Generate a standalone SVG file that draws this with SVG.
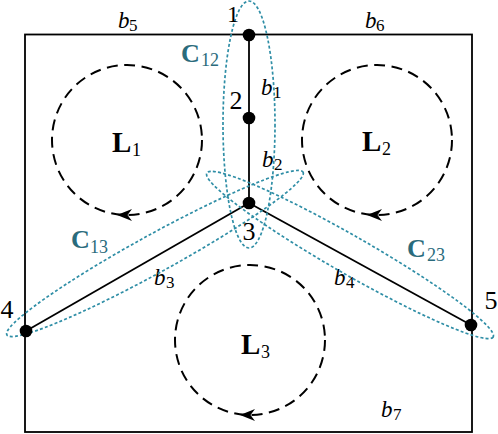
<svg xmlns="http://www.w3.org/2000/svg" width="498" height="434" viewBox="0 0 498 434">
<defs>
<style>
.edge{stroke:#000;stroke-width:1.8;fill:none}
.loop{stroke:#000;stroke-width:2;fill:none;stroke-dasharray:11 6.5}
.cut{stroke:#2f8ea6;stroke-width:1.7;fill:none;stroke-dasharray:3 2.2}
.dot{fill:#000}
.num{font-family:"Liberation Serif",serif;font-size:26px;fill:#000;text-anchor:middle}
.b{font-family:"Liberation Serif",serif;font-size:23px;font-style:italic;fill:#000}
.sub{font-family:"Liberation Serif",serif;font-size:17px;fill:#000}
.C{font-family:"Liberation Serif",serif;font-size:26px;font-weight:bold;fill:#2a6b7c}
.Csub{font-family:"Liberation Serif",serif;font-size:18px;fill:#2a6b7c}
.L{font-family:"Liberation Serif",serif;font-size:29px;font-weight:bold;fill:#000}
.Lsub{font-family:"Liberation Serif",serif;font-size:18px;fill:#000}
</style>
<path id="arr" d="M-8,0 L7,-6 L2.5,0 L7,6 Z" fill="#000"/>
</defs>
<rect width="498" height="434" fill="#fff"/>

<g id="frame">
<rect x="25" y="34.5" width="447" height="397.5" class="edge"/>
</g>

<g id="connectors">
<line x1="249" y1="35" x2="249" y2="118" class="edge"/>
<line x1="249" y1="118" x2="249" y2="203" class="edge"/>
<line x1="249" y1="203" x2="26" y2="331" class="edge"/>
<line x1="249" y1="203" x2="471" y2="325" class="edge"/>
</g>

<g id="branch-labels">
<text x="118" y="28" class="b">b</text><text x="129" y="31" class="sub">5</text>
<text x="365" y="28" class="b">b</text><text x="376" y="31" class="sub">6</text>
<text x="261" y="95" class="b">b</text><text x="273" y="98" class="sub">1</text>
<text x="262" y="167" class="b">b</text><text x="274" y="170" class="sub">2</text>
<text x="154" y="285" class="b">b</text><text x="166" y="288" class="sub">3</text>
<text x="334" y="285" class="b">b</text><text x="346" y="288" class="sub">4</text>
<text x="381" y="417" class="b">b</text><text x="393" y="420" class="sub">7</text>
</g>

<g id="C12">
<ellipse cx="249" cy="124.5" rx="26" ry="123.5" class="cut"/>
<text x="181" y="62" class="C">C</text><text x="201" y="66" class="Csub">12</text>
</g>
<g id="C13">
<ellipse cx="155" cy="253.5" rx="169" ry="19" transform="rotate(-28.8 155 253.5)" class="cut"/>
<text x="71" y="248" class="C">C</text><text x="90" y="253" class="Csub">13</text>
</g>
<g id="C23">
<ellipse cx="350" cy="255" rx="165" ry="19" transform="rotate(29.8 350 255)" class="cut"/>
<text x="407" y="257" class="C">C</text><text x="427" y="261" class="Csub">23</text>
</g>

<g id="L1">
<circle cx="127" cy="140" r="75" class="loop"/>
<use href="#arr" x="125" y="215"/>
<text x="112" y="152" class="L">L</text><text x="132" y="156" class="Lsub">1</text>
</g>
<g id="L2">
<circle cx="377" cy="140" r="75" class="loop"/>
<use href="#arr" x="375" y="215"/>
<text x="362" y="151" class="L">L</text><text x="382" y="155" class="Lsub">2</text>
</g>
<g id="L3">
<circle cx="250" cy="340" r="75" class="loop"/>
<use href="#arr" x="248" y="415"/>
<text x="241" y="354" class="L">L</text><text x="261" y="358" class="Lsub">3</text>
</g>

<g id="n1"><circle cx="249" cy="35" r="6.3" class="dot"/><text x="233" y="22" class="num" style="font-size:24px">1</text></g>
<g id="n2"><circle cx="249" cy="118" r="6.3" class="dot"/><text x="236" y="109" class="num">2</text></g>
<g id="n3"><circle cx="249" cy="203" r="6.3" class="dot"/><text x="249" y="240" class="num">3</text></g>
<g id="n4"><circle cx="26" cy="331" r="6.3" class="dot"/><text x="7" y="318" class="num">4</text></g>
<g id="n5"><circle cx="471" cy="325" r="6.3" class="dot"/><text x="491" y="309" class="num">5</text></g>
</svg>
